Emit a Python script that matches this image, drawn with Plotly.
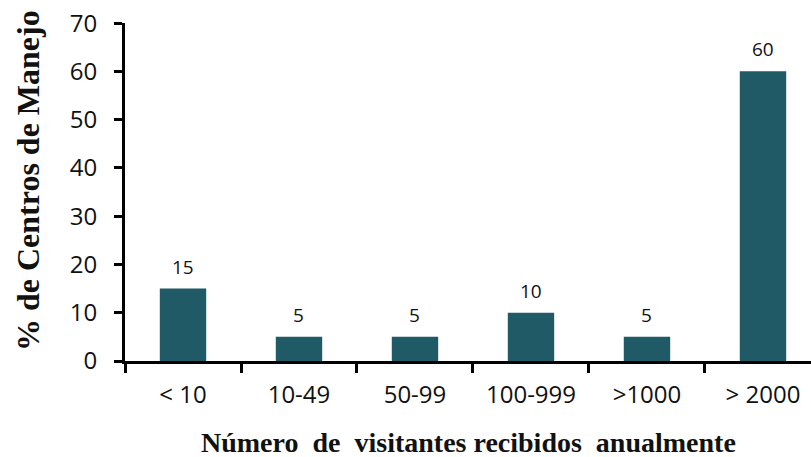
import plotly.graph_objects as go

categories = ["< 10", "10-49", "50-99", "100-999", ">1000", "> 2000"]
values = [15, 5, 5, 10, 5, 60]
y_ticks = [0, 10, 20, 30, 40, 50, 60, 70]

bar_color = "#1f5a66"
sans = "Open Sans, Noto Sans, sans-serif"
serif = "Liberation Serif, DejaVu Serif, serif"

fig = go.Figure()
fig.add_trace(go.Bar(x=categories, y=values, marker=dict(color=bar_color, line=dict(width=0)), width=0.4))

for c, v in zip(categories, values):
    fig.add_annotation(x=c, y=v, text=str(v), showarrow=False, yshift=22,
                       font=dict(family=sans, size=19, color="#111"))

fig.add_annotation(xref="paper", yref="paper", x=0, y=0.5, xanchor="center", yanchor="middle",
                   text="<b>% de Centros de Manejo</b>", textangle=-90, showarrow=False,
                   xshift=-97, yshift=11,
                   font=dict(family=serif, size=32, color="#111"))
fig.add_annotation(xref="paper", yref="paper", x=0.5, y=0, xanchor="center", yanchor="top",
                   text="<b>Número&nbsp; de&nbsp; visitantes recibidos&nbsp; anualmente</b>",
                   showarrow=False, yshift=-64,
                   font=dict(family=serif, size=28, color="#111"))

fig.update_layout(
    template="none",
    width=811, height=457,
    margin=dict(l=125, r=0, t=23, b=96),
    plot_bgcolor="white", paper_bgcolor="white",
    showlegend=False,
    xaxis=dict(
        type="category", range=[-0.5, 5.414], showline=True, linecolor="black", linewidth=3,
        ticks="outside", tickson="boundaries", ticklen=9, tickwidth=3, tickcolor="black",
        ticklabelstandoff=10, automargin=False,
        tickfont=dict(family=sans, size=24, color="#111"), showgrid=False, zeroline=False,
    ),
    yaxis=dict(
        range=[0, 70.02], tickvals=y_ticks, showline=True, linecolor="black", linewidth=3,
        ticks="outside", ticklen=8, tickwidth=3, tickcolor="black",
        ticklabelstandoff=12, automargin=False,
        tickfont=dict(family=sans, size=24, color="#111"), showgrid=False, zeroline=False,
    ),
)

fig.write_html("out.html", config={"displayModeBar": False},
               post_script="document.body.style.margin='0';document.body.style.overflow='hidden';")
